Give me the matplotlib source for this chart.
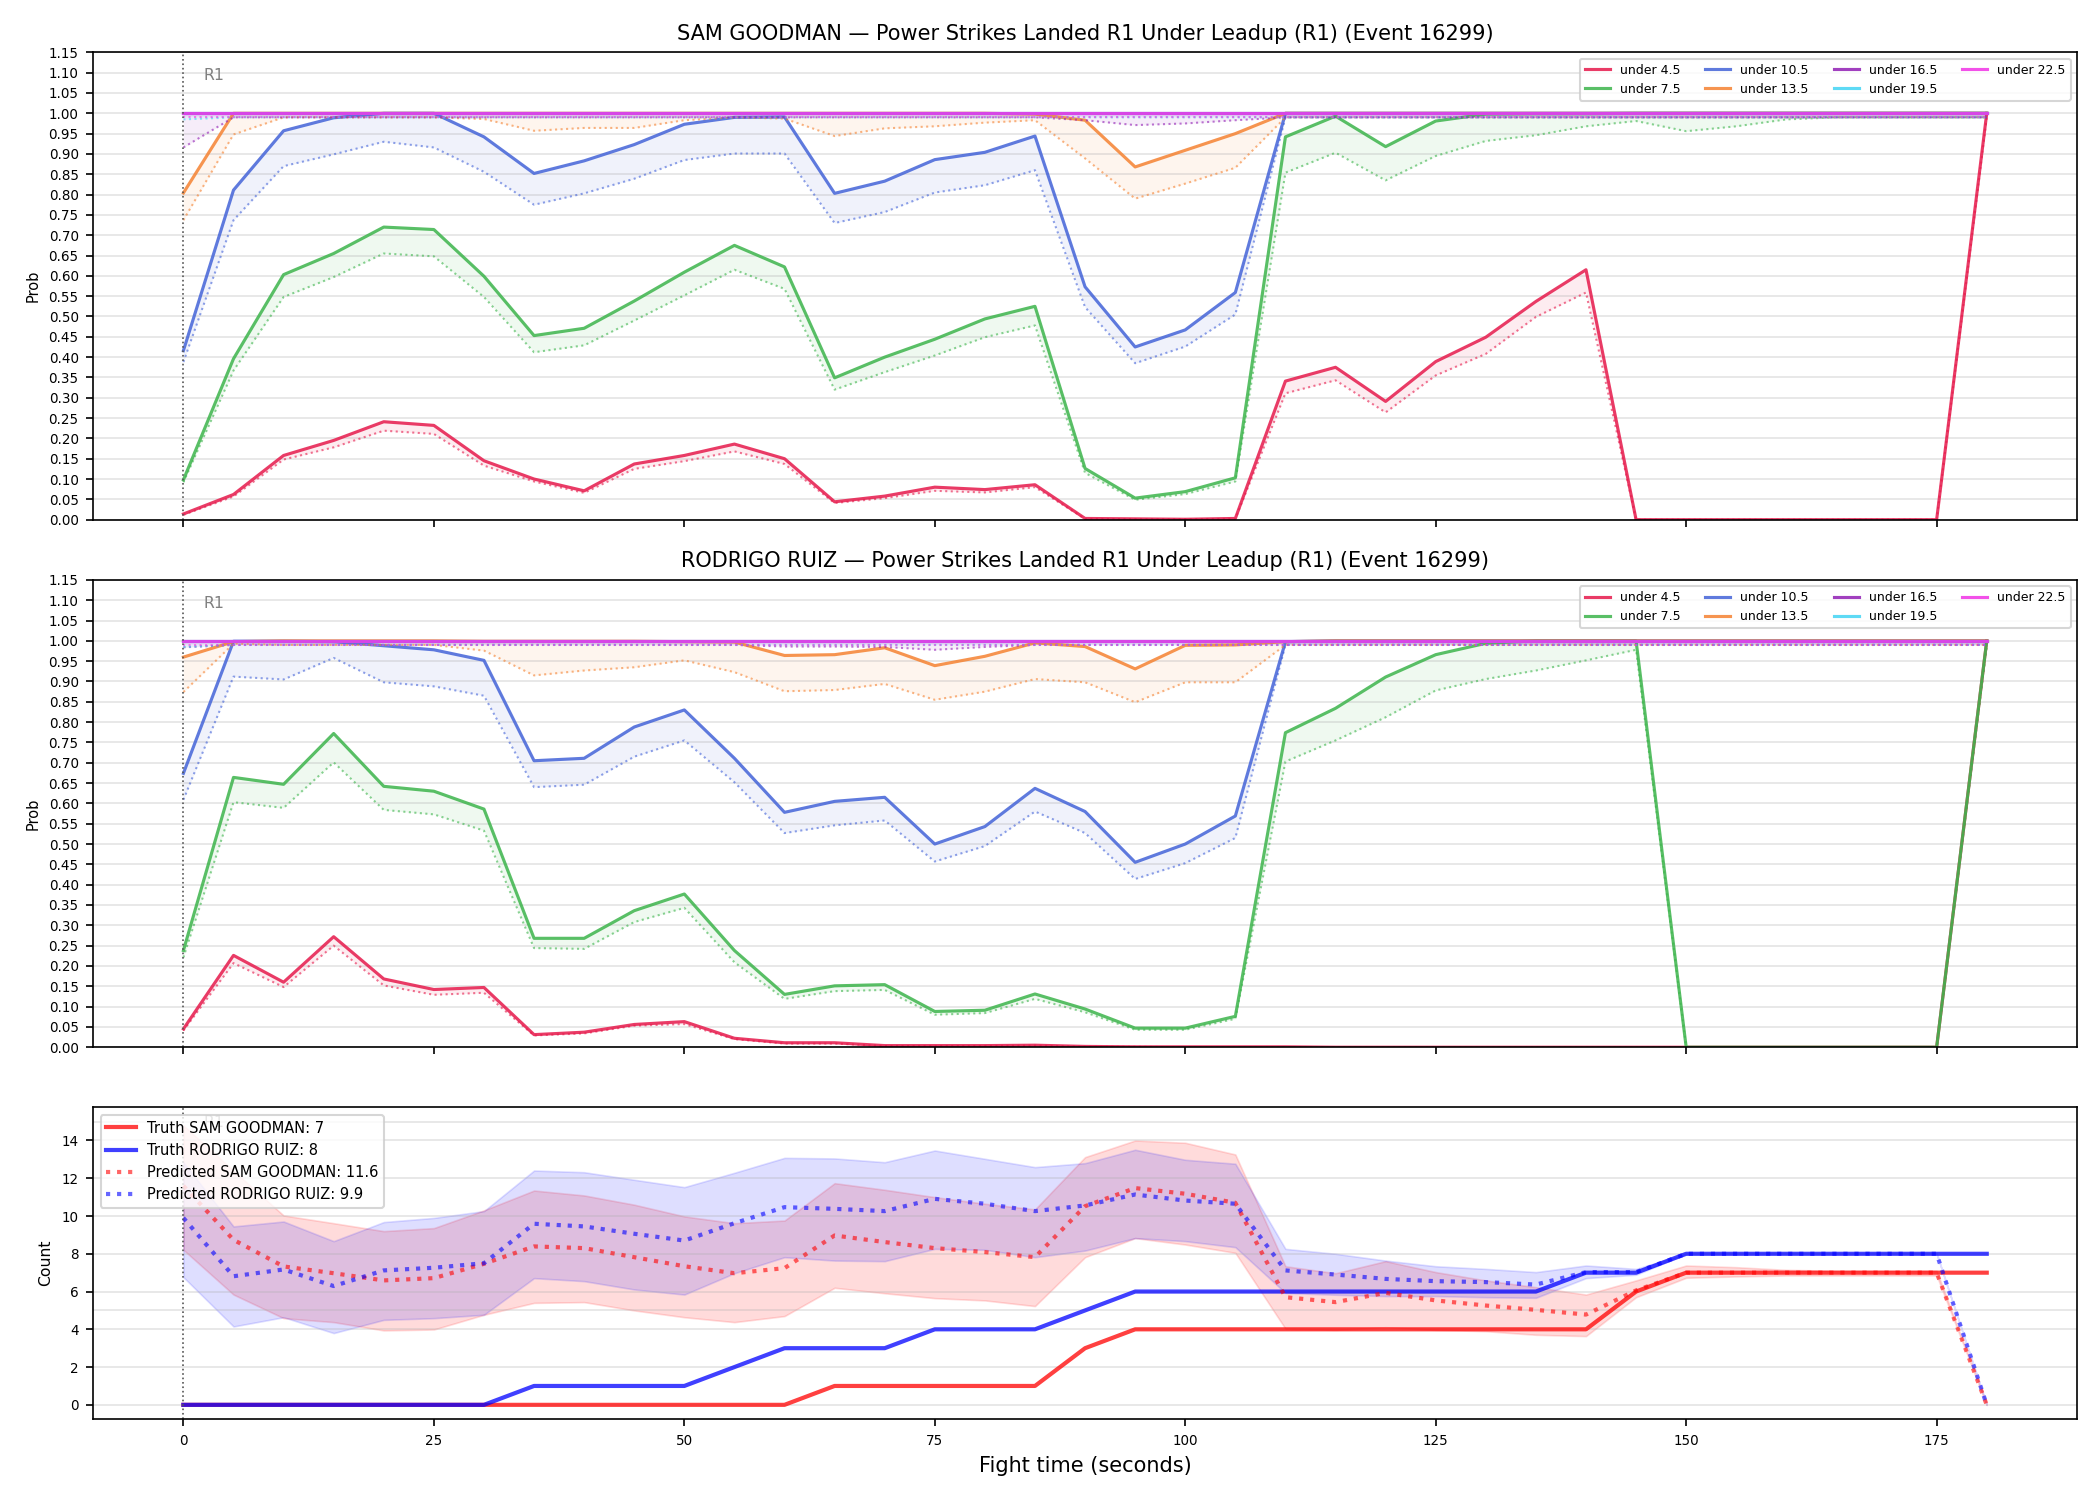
import matplotlib
matplotlib.use("Agg")
import matplotlib.pyplot as plt
from matplotlib.ticker import MultipleLocator, FormatStrFormatter

# fight time (seconds)
t = [0, 5, 10, 15, 20, 25, 30, 35, 40, 45, 50, 55, 60, 65, 70, 75, 80, 85, 90,
     95, 100, 105, 110, 115, 120, 125, 130, 135, 140, 145, 150, 155, 160, 165,
     170, 175, 180]

thresholds = ['4.5', '7.5', '10.5', '13.5', '16.5', '19.5', '22.5']
colors = ['#e6194b', '#3cb44b', '#4363d8', '#f58231', '#911eb4', '#42d4f4', '#f032e6']

# --- SAM GOODMAN: P(under X) solid + lower (dotted) ---
sg_u45 = [0.014, 0.062, 0.158, 0.195, 0.241, 0.232, 0.145, 0.100, 0.071, 0.137, 0.158, 0.186, 0.150,
          0.044, 0.058, 0.080, 0.074, 0.086, 0.003, 0.002, 0.001, 0.003, 0.341, 0.375, 0.291, 0.389,
          0.449, 0.537, 0.615, 0.0, 0.0, 0.0, 0.0, 0.0, 0.0, 0.0, 1.0]
sg_u45_lo = [0.012, 0.057, 0.148, 0.178, 0.219, 0.211, 0.133, 0.094, 0.066, 0.125, 0.144, 0.168, 0.137,
             0.041, 0.053, 0.071, 0.067, 0.080, 0.002, 0.001, 0.001, 0.002, 0.311, 0.343, 0.264, 0.355,
             0.408, 0.499, 0.559, 0.0, 0.0, 0.0, 0.0, 0.0, 0.0, 0.0, 0.99]
sg_u75 = [0.098, 0.396, 0.603, 0.655, 0.720, 0.714, 0.599, 0.453, 0.471, 0.538, 0.609, 0.675, 0.622,
          0.349, 0.400, 0.444, 0.494, 0.525, 0.126, 0.053, 0.069, 0.103, 0.942, 0.993, 0.918, 0.981,
          0.998, 0.999, 0.999, 1.0, 1.0, 1.0, 1.0, 1.0, 1.0, 1.0, 1.0]
sg_u75_lo = [0.092, 0.367, 0.548, 0.597, 0.655, 0.648, 0.548, 0.412, 0.429, 0.490, 0.552, 0.615, 0.568,
             0.320, 0.363, 0.404, 0.449, 0.478, 0.115, 0.049, 0.063, 0.094, 0.854, 0.903, 0.835, 0.895,
             0.932, 0.946, 0.968, 0.981, 0.956, 0.968, 0.985, 0.99, 0.99, 0.99, 0.99]
sg_u105 = [0.416, 0.811, 0.957, 0.989, 1.0, 1.0, 0.942, 0.852, 0.883, 0.923, 0.973, 0.990, 0.991,
           0.803, 0.833, 0.886, 0.904, 0.944, 0.573, 0.425, 0.467, 0.559, 1.0, 1.0, 1.0, 1.0,
           1.0, 1.0, 1.0, 1.0, 1.0, 1.0, 1.0, 1.0, 1.0, 1.0, 1.0]
sg_u105_lo = [0.388, 0.737, 0.870, 0.899, 0.930, 0.916, 0.856, 0.775, 0.803, 0.839, 0.885, 0.901, 0.901,
              0.730, 0.757, 0.805, 0.823, 0.860, 0.523, 0.385, 0.426, 0.505, 0.99, 0.99, 0.99, 0.99,
              0.99, 0.99, 0.99, 0.99, 0.99, 0.99, 0.99, 0.99, 0.99, 0.99, 0.99]
sg_u135 = [0.804, 1.0, 1.0, 1.0, 1.0, 1.0, 1.0, 1.0, 1.0, 1.0, 1.0, 1.0, 1.0,
           1.0, 1.0, 1.0, 1.0, 0.998, 0.983, 0.868, 0.909, 0.950, 1.0, 1.0, 1.0, 1.0,
           1.0, 1.0, 1.0, 1.0, 1.0, 1.0, 1.0, 1.0, 1.0, 1.0, 1.0]
sg_u135_lo = [0.737, 0.948, 0.990, 0.99, 0.99, 0.99, 0.986, 0.957, 0.964, 0.964, 0.983, 0.99, 0.987,
              0.944, 0.963, 0.968, 0.977, 0.983, 0.889, 0.790, 0.827, 0.866, 0.99, 0.99, 0.99, 0.99,
              0.99, 0.99, 0.99, 0.99, 0.99, 0.99, 0.99, 0.99, 0.99, 0.99, 0.99]
sg_u165 = [1.0, 1.0, 1.0, 1.0, 1.0, 1.0, 1.0, 1.0, 1.0, 1.0, 1.0, 1.0, 1.0,
           1.0, 1.0, 1.0, 1.0, 1.0, 1.0, 1.0, 1.0, 1.0, 1.0, 1.0, 1.0, 1.0,
           1.0, 1.0, 1.0, 1.0, 1.0, 1.0, 1.0, 1.0, 1.0, 1.0, 1.0]
sg_u165_lo = [0.916, 0.99, 0.99, 0.99, 0.99, 0.99, 0.99, 0.99, 0.99, 0.99, 0.99, 0.99, 0.99,
              0.99, 0.99, 0.99, 0.99, 0.99, 0.983, 0.971, 0.975, 0.983, 0.99, 0.99, 0.99, 0.99,
              0.99, 0.99, 0.99, 0.99, 0.99, 0.99, 0.99, 0.99, 0.99, 0.99, 0.99]
sg_u195 = [1.0, 1.0, 1.0, 1.0, 1.0, 1.0, 1.0, 1.0, 1.0, 1.0, 1.0, 1.0, 1.0,
           1.0, 1.0, 1.0, 1.0, 1.0, 1.0, 1.0, 1.0, 1.0, 1.0, 1.0, 1.0, 1.0,
           1.0, 1.0, 1.0, 1.0, 1.0, 1.0, 1.0, 1.0, 1.0, 1.0, 1.0]
sg_u195_lo = [0.985, 0.99, 0.99, 0.99, 0.99, 0.99, 0.99, 0.99, 0.99, 0.99, 0.99, 0.99, 0.99,
              0.99, 0.99, 0.99, 0.99, 0.99, 0.99, 0.99, 0.99, 0.99, 0.99, 0.99, 0.99, 0.99,
              0.99, 0.99, 0.99, 0.99, 0.99, 0.99, 0.99, 0.99, 0.99, 0.99, 0.99]
sg_u225 = [1.0, 1.0, 1.0, 1.0, 1.0, 1.0, 1.0, 1.0, 1.0, 1.0, 1.0, 1.0, 1.0,
           1.0, 1.0, 1.0, 1.0, 1.0, 1.0, 1.0, 1.0, 1.0, 1.0, 1.0, 1.0, 1.0,
           1.0, 1.0, 1.0, 1.0, 1.0, 1.0, 1.0, 1.0, 1.0, 1.0, 1.0]
sg_u225_lo = [0.99, 0.99, 0.99, 0.99, 0.99, 0.99, 0.99, 0.99, 0.99, 0.99, 0.99, 0.99, 0.99,
              0.99, 0.99, 0.99, 0.99, 0.99, 0.99, 0.99, 0.99, 0.99, 0.99, 0.99, 0.99, 0.99,
              0.99, 0.99, 0.99, 0.99, 0.99, 0.99, 0.99, 0.99, 0.99, 0.99, 0.99]

# --- RODRIGO RUIZ ---
rr_u45 = [0.045, 0.226, 0.160, 0.272, 0.168, 0.142, 0.147, 0.031, 0.037, 0.056, 0.063, 0.022, 0.011,
          0.011, 0.004, 0.004, 0.004, 0.005, 0.002, 0.001, 0.001, 0.001, 0.001, 0.0, 0.0, 0.0,
          0.0, 0.0, 0.0, 0.0, 0.0, 0.0, 0.0, 0.0, 0.0, 0.0, 1.0]
rr_u45_lo = [0.041, 0.207, 0.148, 0.250, 0.152, 0.129, 0.134, 0.029, 0.034, 0.053, 0.057, 0.020, 0.009,
             0.009, 0.003, 0.003, 0.003, 0.004, 0.001, 0.001, 0.0, 0.0, 0.0, 0.0, 0.0, 0.0,
             0.0, 0.0, 0.0, 0.0, 0.0, 0.0, 0.0, 0.0, 0.0, 0.0, 0.99]
rr_u75 = [0.238, 0.664, 0.647, 0.772, 0.642, 0.630, 0.586, 0.268, 0.268, 0.336, 0.377, 0.238, 0.130,
          0.151, 0.154, 0.088, 0.091, 0.131, 0.094, 0.047, 0.047, 0.076, 0.774, 0.834, 0.911, 0.966,
          0.994, 1.0, 1.0, 1.0, 0.0, 0.0, 0.0, 0.0, 0.0, 0.0, 1.0]
rr_u75_lo = [0.221, 0.603, 0.589, 0.701, 0.584, 0.573, 0.533, 0.244, 0.242, 0.308, 0.343, 0.209, 0.119,
             0.138, 0.141, 0.080, 0.084, 0.119, 0.086, 0.043, 0.043, 0.070, 0.703, 0.755, 0.812, 0.878,
             0.906, 0.927, 0.952, 0.978, 0.0, 0.0, 0.0, 0.0, 0.0, 0.0, 0.99]
rr_u105 = [0.674, 0.999, 0.999, 0.998, 0.988, 0.978, 0.952, 0.705, 0.711, 0.788, 0.830, 0.711, 0.578,
           0.605, 0.615, 0.500, 0.543, 0.637, 0.580, 0.455, 0.500, 0.569, 0.998, 1.0, 1.0, 1.0,
           1.0, 1.0, 1.0, 1.0, 1.0, 1.0, 1.0, 1.0, 1.0, 1.0, 1.0]
rr_u105_lo = [0.609, 0.912, 0.905, 0.958, 0.898, 0.888, 0.865, 0.640, 0.646, 0.715, 0.755, 0.652, 0.527,
              0.546, 0.558, 0.457, 0.495, 0.580, 0.527, 0.414, 0.453, 0.515, 0.99, 0.99, 0.99, 0.99,
              0.99, 0.99, 0.99, 0.99, 0.99, 0.99, 0.99, 0.99, 0.99, 0.99, 0.99]
rr_u135 = [0.960, 0.998, 1.0, 1.0, 1.0, 1.0, 0.999, 0.999, 0.999, 0.999, 0.998, 0.997, 0.964,
           0.966, 0.983, 0.939, 0.962, 0.995, 0.986, 0.931, 0.989, 0.990, 0.998, 1.0, 1.0, 1.0,
           1.0, 1.0, 1.0, 1.0, 1.0, 1.0, 1.0, 1.0, 1.0, 1.0, 1.0]
rr_u135_lo = [0.874, 0.993, 0.99, 0.99, 0.99, 0.99, 0.976, 0.915, 0.927, 0.935, 0.952, 0.923, 0.876,
              0.879, 0.894, 0.855, 0.875, 0.906, 0.898, 0.849, 0.898, 0.898, 0.99, 0.99, 0.99, 0.99,
              0.99, 0.99, 0.99, 0.99, 0.99, 0.99, 0.99, 0.99, 0.99, 0.99, 0.99]
rr_u165 = sg_u165
rr_u165_lo = [0.984, 0.99, 0.99, 0.99, 0.99, 0.99, 0.99, 0.99, 0.99, 0.99, 0.99, 0.99, 0.986,
              0.986, 0.985, 0.978, 0.985, 0.99, 0.99, 0.99, 0.99, 0.99, 0.99, 0.99, 0.99, 0.99,
              0.99, 0.99, 0.99, 0.99, 0.99, 0.99, 0.99, 0.99, 0.99, 0.99, 0.99]
rr_u195 = sg_u195
rr_u195_lo = sg_u195_lo
rr_u225 = sg_u225
rr_u225_lo = sg_u225_lo

# --- counts ---
truth_sg = [0, 0, 0, 0, 0, 0, 0, 0, 0, 0, 0, 0, 0, 1, 1, 1, 1, 1, 3, 4, 4, 4, 4, 4, 4, 4,
            4, 4, 4, 6, 7, 7, 7, 7, 7, 7, 7]
truth_rr = [0, 0, 0, 0, 0, 0, 0, 1, 1, 1, 1, 2, 3, 3, 3, 4, 4, 4, 5, 6, 6, 6, 6, 6, 6, 6,
            6, 6, 7, 7, 8, 8, 8, 8, 8, 8, 8]
pred_sg = [11.6, 8.74, 7.33, 6.97, 6.59, 6.71, 7.47, 8.39, 8.30, 7.82, 7.34, 6.97, 7.24, 8.97, 8.62,
           8.30, 8.09, 7.82, 10.52, 11.48, 11.18, 10.70, 5.70, 5.44, 5.93, 5.53, 5.26, 5.03, 4.78,
           6.06, 7.0, 7.0, 7.0, 7.0, 7.0, 7.0, 0.0]
pred_sg_hi = [14.8, 12.4, 10.03, 9.62, 9.2, 9.36, 10.3, 11.35, 11.09, 10.6, 9.98, 9.62, 9.76, 11.74,
              11.39, 11.0, 10.65, 10.35, 13.12, 14.0, 13.88, 13.26, 7.34, 6.97, 7.61, 7.03, 6.59,
              6.23, 5.84, 6.59, 7.38, 7.29, 7.15, 7.1, 7.1, 7.1, 0.0]
pred_sg_lo = [8.21, 5.84, 4.59, 4.38, 3.94, 3.99, 4.77, 5.40, 5.44, 5.0, 4.64, 4.38, 4.70, 6.20, 5.91,
              5.65, 5.53, 5.23, 7.82, 8.83, 8.49, 8.05, 4.03, 3.97, 4.11, 3.97, 3.90, 3.71, 3.64,
              5.70, 6.73, 6.8, 6.85, 6.85, 6.85, 6.85, 0.0]
pred_rr = [9.9, 6.81, 7.17, 6.29, 7.12, 7.26, 7.50, 9.59, 9.45, 9.06, 8.70, 9.62, 10.47, 10.38, 10.26,
           10.91, 10.65, 10.26, 10.56, 11.14, 10.82, 10.65, 7.12, 6.90, 6.67, 6.55, 6.50, 6.37, 7.03,
           7.03, 8.0, 8.0, 8.0, 8.0, 8.0, 8.0, 0.0]
pred_rr_hi = [12.85, 9.45, 9.71, 8.67, 9.68, 9.90, 10.26, 12.41, 12.32, 11.92, 11.53, 12.29, 13.08,
              13.05, 12.85, 13.47, 13.03, 12.59, 12.80, 13.51, 12.98, 12.77, 8.26, 8.0, 7.64, 7.34,
              7.2, 7.03, 7.38, 7.2, 8.0, 8.0, 8.0, 8.0, 8.0, 8.0, 0.0]
pred_rr_lo = [6.76, 4.15, 4.64, 3.80, 4.50, 4.59, 4.77, 6.71, 6.55, 6.11, 5.84, 6.97, 7.82, 7.64, 7.61,
              8.26, 8.21, 7.82, 8.17, 8.83, 8.67, 8.35, 5.93, 5.83, 5.76, 5.76, 5.70, 5.67, 6.71,
              6.89, 8.0, 8.0, 8.0, 8.0, 8.0, 8.0, 0.0]

sg_lines = [(sg_u45, sg_u45_lo), (sg_u75, sg_u75_lo), (sg_u105, sg_u105_lo), (sg_u135, sg_u135_lo),
            (sg_u165, sg_u165_lo), (sg_u195, sg_u195_lo), (sg_u225, sg_u225_lo)]
rr_lines = [(rr_u45, rr_u45_lo), (rr_u75, rr_u75_lo), (rr_u105, rr_u105_lo), (rr_u135, rr_u135_lo),
            (rr_u165, rr_u165_lo), (rr_u195, rr_u195_lo), (rr_u225, rr_u225_lo)]

fig, axes = plt.subplots(3, 1, figsize=(14, 10), sharex=True,
                         gridspec_kw={'height_ratios': [3, 3, 2]})
fig.subplots_adjust(left=0.0444, right=0.989, top=0.9651, bottom=0.054, hspace=0.145)


def prob_panel(ax, lines, name):
    for th, col, (hi, lo) in zip(thresholds, colors, lines):
        ax.fill_between(t, lo, hi, color=col, alpha=0.08, lw=0)
        ax.plot(t, lo, color=col, lw=1.0, ls=':', alpha=0.6)
        ax.plot(t, hi, color=col, lw=1.5, alpha=0.85, label=f'under {th}')
    ax.set_ylim(0, 1.15)
    ax.yaxis.set_major_locator(MultipleLocator(0.05))
    ax.yaxis.set_major_formatter(FormatStrFormatter('%.2f'))
    ax.axvline(0, color='#555555', ls=':', lw=0.8)
    ax.text(2, 1.15 * 0.95, 'R1', color='grey', fontsize=7.5, va='center')
    ax.grid(axis='y', alpha=0.35)
    ax.set_ylabel('Prob', fontsize=7)
    ax.tick_params(labelsize=6.5)
    ax.set_title(f'{name} \u2014 Power Strikes Landed R1 Under Leadup (R1) (Event 16299)', fontsize=10)
    ax.legend(loc='upper right', ncol=4, fontsize=6)


prob_panel(axes[0], sg_lines, 'SAM GOODMAN')
prob_panel(axes[1], rr_lines, 'RODRIGO RUIZ')

ax = axes[2]
ax.set_ylim(-0.75, 15.75)
ax.axhline(5, color='#b0b0b0', alpha=0.35, lw=0.8)
ax.axhline(15, color='#b0b0b0', alpha=0.35, lw=0.8)
ax.fill_between(t, pred_sg_lo, pred_sg_hi, color='red', alpha=0.14, edgecolor='red', lw=0.8)
ax.fill_between(t, pred_rr_lo, pred_rr_hi, color='blue', alpha=0.13, edgecolor='blue', lw=0.8)
ax.plot(t, truth_sg, color='red', lw=2, alpha=0.75, label='Truth SAM GOODMAN: 7')
ax.plot(t, truth_rr, color='blue', lw=2, alpha=0.75, label='Truth RODRIGO RUIZ: 8')
ax.plot(t, pred_sg, color='red', lw=2, ls=':', alpha=0.6, label='Predicted SAM GOODMAN: 11.6')
ax.plot(t, pred_rr, color='blue', lw=2, ls=':', alpha=0.6, label='Predicted RODRIGO RUIZ: 9.9')
ax.axvline(0, color='#555555', ls=':', lw=0.8)
ax.text(2, 15.75 * 0.95, 'R1', color='grey', fontsize=7.5, va='center')
ax.grid(axis='y', alpha=0.35)
ax.set_ylabel('Count', fontsize=7.5)
ax.set_xlabel('Fight time (seconds)', fontsize=10)
ax.tick_params(labelsize=6.5)
ax.legend(loc='upper left', fontsize=7)

fig.savefig('out.png', dpi=150)
